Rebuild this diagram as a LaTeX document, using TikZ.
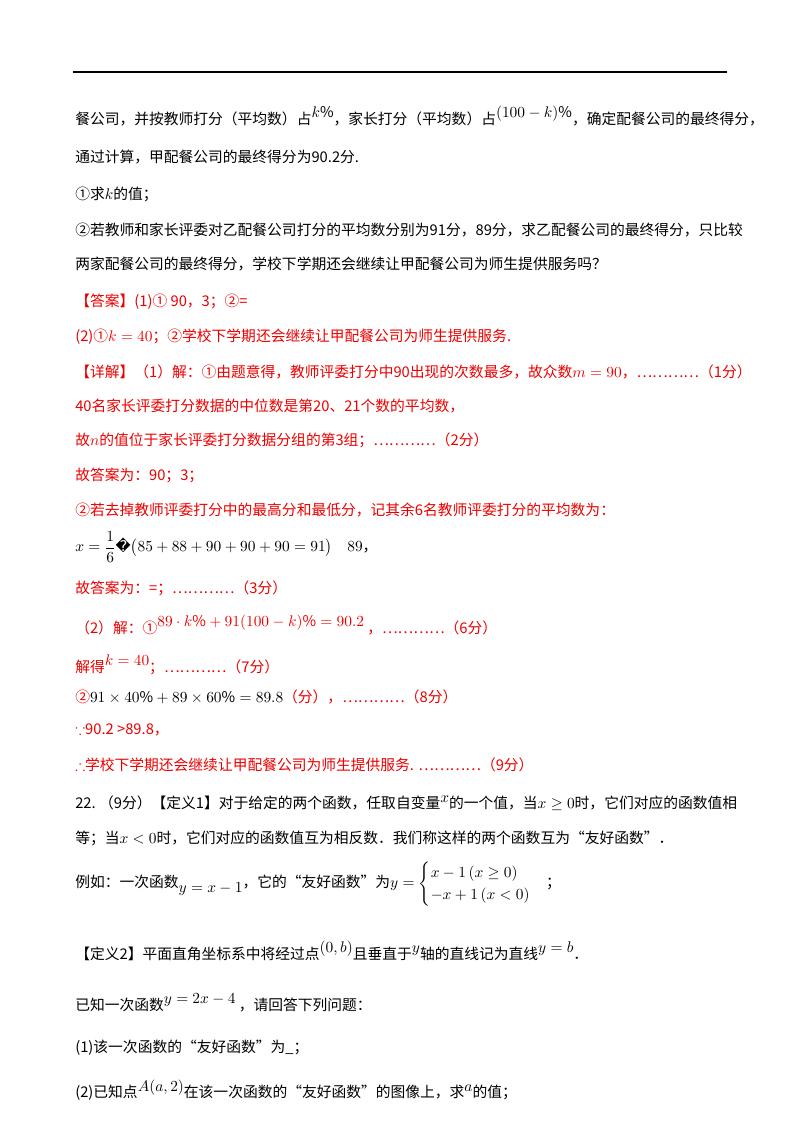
\documentclass[tikz,border=0pt]{standalone}
\usepackage{amsmath,amssymb}
\usepackage{fontspec}
\setmainfont{Noto Sans CJK SC}
\newfontfamily\dejavu{DejaVu Sans}
\usepackage{xcolor}
\definecolor{ansred}{RGB}{235,0,0}
\usetikzlibrary{positioning}
\newcommand{\upm}[1]{\raisebox{0.8ex}{$#1$}}
\newcommand{\dnm}[1]{\raisebox{-0.6ex}{$#1$}}

\begin{document}
\begin{tikzpicture}[
    x=0.025cm, y=-0.025cm,
    txt/.style={anchor=west, inner sep=0pt, font=\fontsize{10.5}{13}\selectfont},
    ans/.style={txt, text=ansred},
]
\useasboundingbox (0,0) rectangle (800,1132);

% Top rule
\coordinate (ruleL) at (73,72);
\coordinate (ruleR) at (727,72);
\draw[line width=0.8pt] (ruleL) -- (ruleR);

% Question text
\node[txt] (q1) at (75,116) {餐公司，并按教师打分（平均数）占\upm{k\%}，家长打分（平均数）占\upm{(100-k)\%}，确定配餐公司的最终得分，};
\node[txt] (q2) at (75,157) {通过计算，甲配餐公司的最终得分为90.2分.};
\node[txt] (q3) at (75,194) {①求$k$的值；};
\node[txt] (q4) at (75,230) {②若教师和家长评委对乙配餐公司打分的平均数分别为91分，89分，求乙配餐公司的最终得分，只比较};
\node[txt] (q5) at (75,264) {两家配餐公司的最终得分，学校下学期还会继续让甲配餐公司为师生提供服务吗？};

% Answer
\node[ans] (a1) at (75,302) {【答案】(1)① 90，3；②=};
\node[ans] (a2) at (75,337) {(2)①$k=40$；②学校下学期还会继续让甲配餐公司为师生提供服务.};

% Detailed solution
\node[ans] (d1) at (75,372) {【详解】（1）解：①由题意得，教师评委打分中90出现的次数最多，故众数$m=90$，…………（1分）};
\node[ans] (d2) at (75,406) {40名家长评委打分数据的中位数是第20、21个数的平均数，};
\node[ans] (d3) at (75,440) {故$n$的值位于家长评委打分数据分组的第3组；…………（2分）};
\node[ans] (d4) at (75,475) {故答案为：90；3；};
\node[ans] (d5) at (75,510) {②若去掉教师评委打分中的最高分和最低分，记其余6名教师评委打分的平均数为：};
\node[txt] (d6) at (75,547) {$x=\dfrac{1}{6}${\dejavu �}$\big(85+88+90+90+90=91\big)\quad 89$，};
\node[ans] (d7) at (75,588) {故答案为：=；…………（3分）};
\node[ans] (d8) at (75,625) {（2）解：①\upm{89\cdot k\%+91(100-k)\%=90.2}\ ，…………（6分）};
\node[ans] (d9) at (75,665) {解得\upm{k=40}；…………（7分）};
\node[ans] (d10) at (75,697) {②{\color{black}$91\times40\%+89\times60\%=89.8$}（分），…………（8分）};
\node[ans] (d11) at (75,730) {$\because$90.2 >89.8，};
\node[ans] (d12) at (75,765) {$\therefore$学校下学期还会继续让甲配餐公司为师生提供服务. …………（9分）};

% Question 22
\node[txt] (p1) at (75,803) {22.\ （9分）【定义1】对于给定的两个函数，任取自变量\upm{x}的一个值，当$x\geq0$时，它们对应的函数值相};
\node[txt] (p2) at (75,838) {等；当$x<0$时，它们对应的函数值互为相反数．我们称这样的两个函数互为“友好函数”．};
\node[txt] (p3) at (75,884) {例如：一次函数\dnm{y=x-1}，它的“友好函数”为$y=\begin{cases}x-1\,(x\geq0)\\-x+1\,(x<0)\end{cases}$；};
\node[txt] (p4) at (75,951) {【定义2】平面直角坐标系中将经过点\upm{(0,b)}且垂直于\upm{y}轴的直线记为直线\upm{y=b}．};
\node[txt] (p5) at (75,1003) {已知一次函数\upm{y=2x-4}\ ，请回答下列问题：};
\node[txt] (p6) at (75,1048) {(1)该一次函数的“友好函数”为\_；};
\node[txt] (p7) at (75,1090) {(2)已知点\upm{A(a,2)}在该一次函数的“友好函数”的图像上，求\upm{a}的值；};

\end{tikzpicture}
\end{document}
